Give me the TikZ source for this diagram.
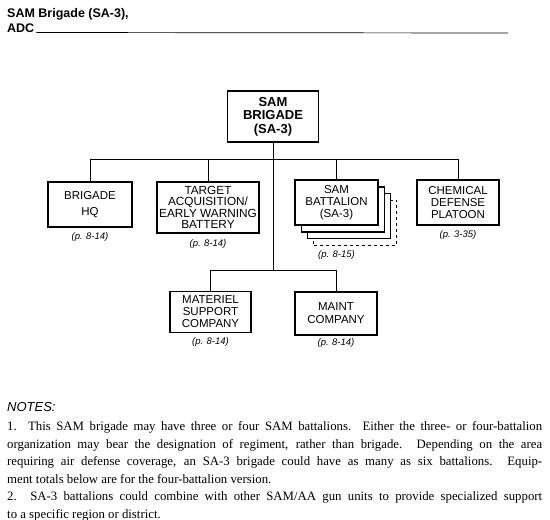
\documentclass[tikz,border=0pt]{standalone}
\usepackage{fontspec}
\setmainfont{Liberation Serif}
\setsansfont{Liberation Sans}
\usetikzlibrary{positioning}
\tikzset{
  unit/.style={draw, fill=white, line width=1.1pt, align=center, inner sep=0pt,
    font=\sffamily\fontsize{11.5}{12}\selectfont},
  page/.style={inner sep=0pt, font=\sffamily\itshape\fontsize{9.5}{10}\selectfont},
  link/.style={line width=0.9pt}
}
\begin{document}
\begin{tikzpicture}[x=1pt,y=-1pt]
   \useasboundingbox (0,0) rectangle (550,520);
   % heading
   \node (title) [anchor=base west, inner sep=0pt, font=\sffamily\bfseries\fontsize{12.5}{14}\selectfont] at (7,17) {SAM Brigade (SA-3),};
   \node (adc) [anchor=base west, inner sep=0pt, font=\sffamily\bfseries\fontsize{12.5}{14}\selectfont] at (7,32.5) {ADC};
   \coordinate (rulend) at (508,33);
   \draw[line width=0.7pt] ([xshift=2pt]adc.base east) -- (rulend);
   % units
   \node (brig) [unit, font=\sffamily\bfseries\fontsize{13}{13.5}\selectfont, minimum width=91pt, minimum height=51pt] at (273,116.5) {SAM\\BRIGADE\\(SA-3)};
   \node (hq) [unit, font=\sffamily\fontsize{11.5}{16}\selectfont, minimum width=84pt, minimum height=45pt] at (90,204.5) {BRIGADE\\HQ};
   \node (ta) [unit, font=\sffamily\fontsize{11.8}{11.3}\selectfont, minimum width=102pt, minimum height=51pt] at (208,207.5) {TARGET\\ACQUISITION/\\EARLY WARNING\\BATTERY};
   \node (samd) [unit, dashed, line width=0.6pt, minimum width=83pt, minimum height=45pt] at (355,222.5) {};
   \node (samc) [unit, minimum width=83pt, minimum height=45pt] at (349,216) {};
   \node (samb) [unit, minimum width=83pt, minimum height=45pt] at (343,209.5) {};
   \node (sam) [unit, minimum width=83pt, minimum height=45pt] at (336.5,202.5) {SAM\\BATTALION\\(SA-3)};
   \node (chem) [unit, minimum width=82pt, minimum height=45pt] at (458,202.5) {CHEMICAL\\DEFENSE\\PLATOON};
   \node (mat) [unit, minimum width=81pt, minimum height=41pt] at (210.5,312) {MATERIEL\\SUPPORT\\COMPANY};
   \node (maint) [unit, font=\sffamily\fontsize{11.5}{13}\selectfont, minimum width=82pt, minimum height=43pt] at (336,313.5) {MAINT\\COMPANY};
   % page references
   \node [page, below=5pt of hq] {(p. 8-14)};
   \node [page, below=6pt of ta] {(p. 8-14)};
   \coordinate (samfoot) at (sam.south |- samd.south);
   \node [page, below=5pt of samfoot] {(p. 8-15)};
   \node [page, below=5pt of chem] {(p. 3-35)};
   \node [page, below=4pt of mat] {(p. 8-14)};
   \node [page, below=3pt of maint] {(p. 8-14)};
   % lines
   \coordinate (bustop) at (273,159);
   \coordinate (buslow) at (273,270);
   \draw[link] (brig) -- (buslow);
   \foreach \u in {hq,ta,sam,chem}
      \draw[link] (\u.north) |- (bustop);
   \foreach \u in {mat,maint}
      \draw[link] (\u.north) |- (buslow);
   % notes
   \node (notehead) [anchor=base west, inner sep=0pt, font=\sffamily\itshape\fontsize{13}{14}\selectfont] at (7,411.5) {NOTES:};
   \node (notes) [anchor=north west, inner sep=0pt, text width=535pt, align=justify,
      font=\rmfamily\fontsize{12.8}{17.6}\selectfont,
      execute at begin node={\hyphenpenalty=10000 \tolerance=9999\relax}] at (7,421.3)
      {1. This SAM brigade may have three or four SAM battalions. Either the three- or four-battalion\linebreak
       organization may bear the designation of regiment, rather than brigade. Depending on the area\linebreak
       requiring air defense coverage, an SA-3 brigade could have as many as six battalions. Equip-\linebreak
       ment totals below are for the four-battalion version.\par
       2. SA-3 battalions could combine with other SAM/AA gun units to provide specialized support\linebreak
       to a specific region or district.};
 \end{tikzpicture}
\end{document}
